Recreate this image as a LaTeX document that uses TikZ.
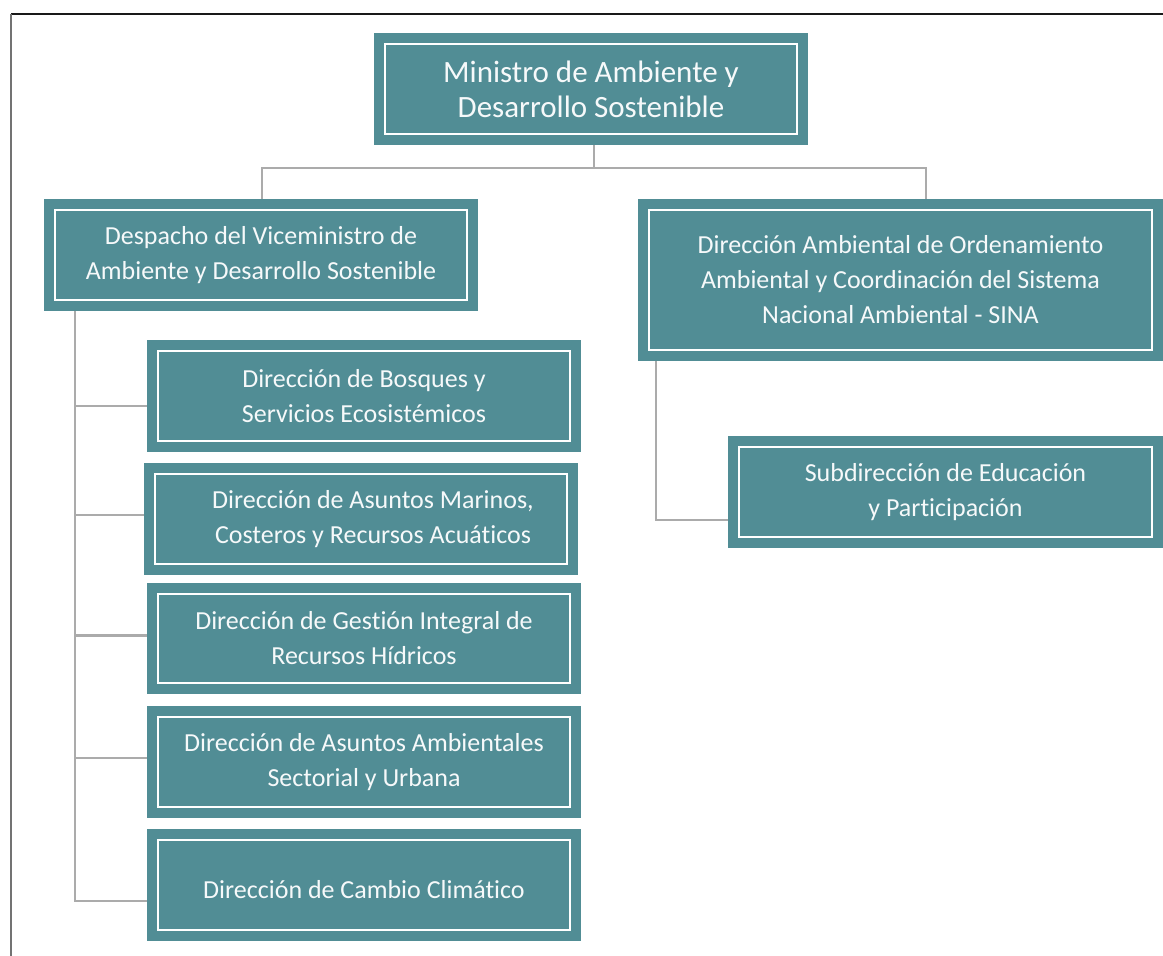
\documentclass[tikz,border=0pt]{standalone}
\usepackage{fontspec}
\setmainfont{Carlito}[Ligatures=NoCommon]
\definecolor{unitfill}{HTML}{518D95}
\definecolor{linkgray}{HTML}{ABABAB}

\begin{document}
\begin{tikzpicture}[x=1pt,y=-1pt]
        \tikzstyle{every node}=[font=\fontsize{26}{35}\selectfont]
        \tikzstyle{unit}=[rectangle, fill=unitfill, draw=white, line width=2,
            preaction={draw=unitfill, line width=22}, text=white!95!unitfill, align=center,
            inner sep=0, outer sep=11, minimum width=412, minimum height=90]
        \tikzstyle{link}=[draw=linkgray, line width=2.5]

        \useasboundingbox (0,0) rectangle (1163,956);
        \draw[line width=2, black!90] (11,14) -- (1163,14);
        \draw[line width=2, black!55] (11,14) -- (11,956);

        \node[unit, font=\fontsize{31}{35}\selectfont] (minis) at (591,89)
            {Ministro de Ambiente y\\Desarrollo Sostenible};

        \node[unit] (vice) at (261,255)
            {Despacho del Viceministro de\\Ambiente y Desarrollo Sostenible};

        \node[unit, minimum width=503, minimum height=140] (sina) at (900.5,280)
            {Dirección Ambiental de Ordenamiento\\Ambiental y Coordinación del Sistema\\Nacional Ambiental - SINA};

        \node[unit, minimum width=413] (educ) at (945.5,492)
            {Subdirección de Educación\\y Participación};

        \node[unit] (bosq) at (364,396)
            {Dirección de Bosques y\\Servicios Ecosistémicos};
        \node[unit] (mari) at (361,519)
            {\hspace*{24pt}Dirección de Asuntos Marinos,\\\hspace*{24pt}Costeros y Recursos Acuáticos};
        \node[unit, minimum height=89] (hidr) at (364,638.5)
            {Dirección de Gestión Integral de\\Recursos Hídricos};
        \node[unit] (sect) at (364,762)
            {Dirección de Asuntos Ambientales\\Sectorial y Urbana};
        \node[unit] (clim) at (364,885)
            {\raisebox{-5pt}[\height][\depth]{Dirección de Cambio Climático}};

        \coordinate (bus) at (594,168);
        \coordinate (ltrunk) at (75,0);
        \coordinate (rtrunk) at (656,0);

        \draw[link] (minis.south -| bus) -- (bus);
        \draw[link] (bus) -| ([xshift=1]vice.north);
        \draw[link] (bus) -| ([xshift=25.5]sina.north);

        \foreach \n/\dy in {bosq/-10, mari/4, hidr/3, sect/4, clim/-16}
            \draw[link] (vice.south -| ltrunk) |- ([yshift=\dy]\n.west);

        \draw[link] (sina.south -| rtrunk) |- ([yshift=-28]educ.west);
    \end{tikzpicture}
\end{document}
